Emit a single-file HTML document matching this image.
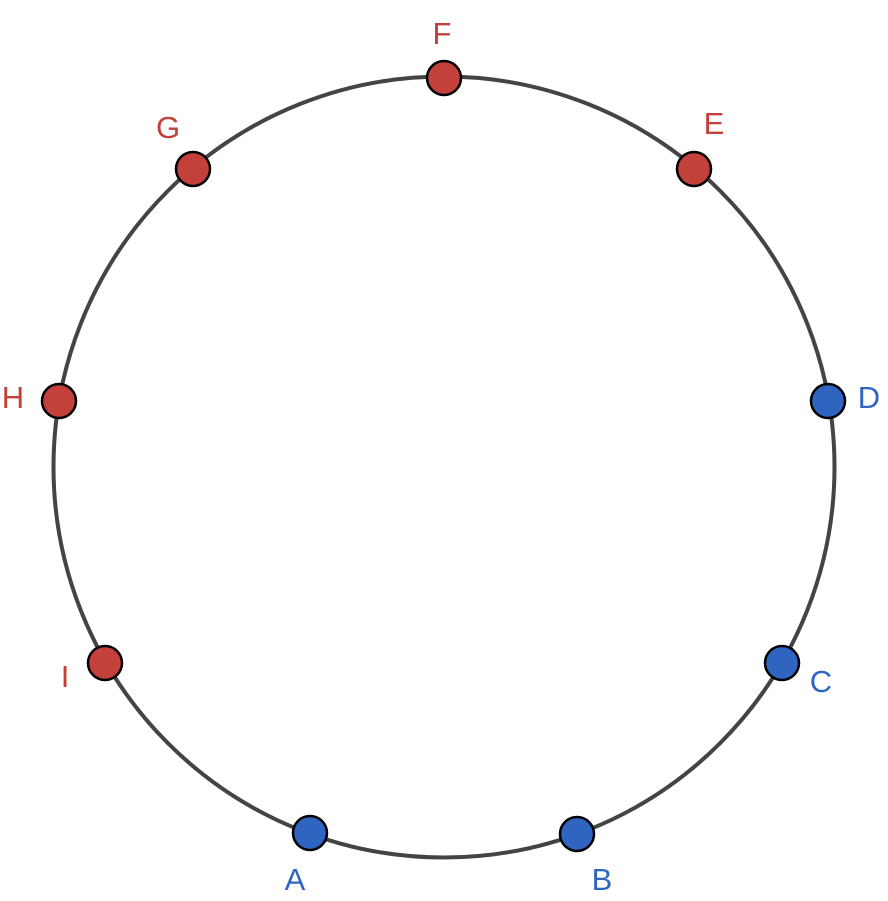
<!DOCTYPE html>
<html><head><style>html,body{margin:0;padding:0;background:#fff}</style></head>
<body>
<svg width="888" height="896" viewBox="0 0 888 896" xmlns="http://www.w3.org/2000/svg">
<circle cx="444" cy="467" r="390.5" fill="none" stroke="#444" stroke-width="4"/>
<g stroke="#000" stroke-width="2.5">
<circle cx="444" cy="78" r="17" fill="#c4403a"/>
<circle cx="694" cy="169" r="17" fill="#c4403a"/>
<circle cx="193" cy="169" r="17" fill="#c4403a"/>
<circle cx="59" cy="401" r="17" fill="#c4403a"/>
<circle cx="105" cy="663" r="17" fill="#c4403a"/>
<circle cx="828" cy="401" r="17" fill="#2f64c1"/>
<circle cx="782" cy="663" r="17" fill="#2f64c1"/>
<circle cx="310" cy="833" r="17" fill="#2f64c1"/>
<circle cx="577" cy="834" r="17" fill="#2f64c1"/>
</g>
<g font-family="Liberation Sans, sans-serif" font-size="31" text-anchor="middle">
<g fill="#c4403a">
<text x="442" y="44">F</text>
<text x="714" y="134">E</text>
<text x="168" y="138">G</text>
<text x="13" y="408">H</text>
<text x="65" y="687">I</text>
</g>
<g fill="#2f64c1">
<text x="869" y="408">D</text>
<text x="821" y="692">C</text>
<text x="295" y="890">A</text>
<text x="602" y="890">B</text>
</g>
</g>
</svg>
</body></html>
